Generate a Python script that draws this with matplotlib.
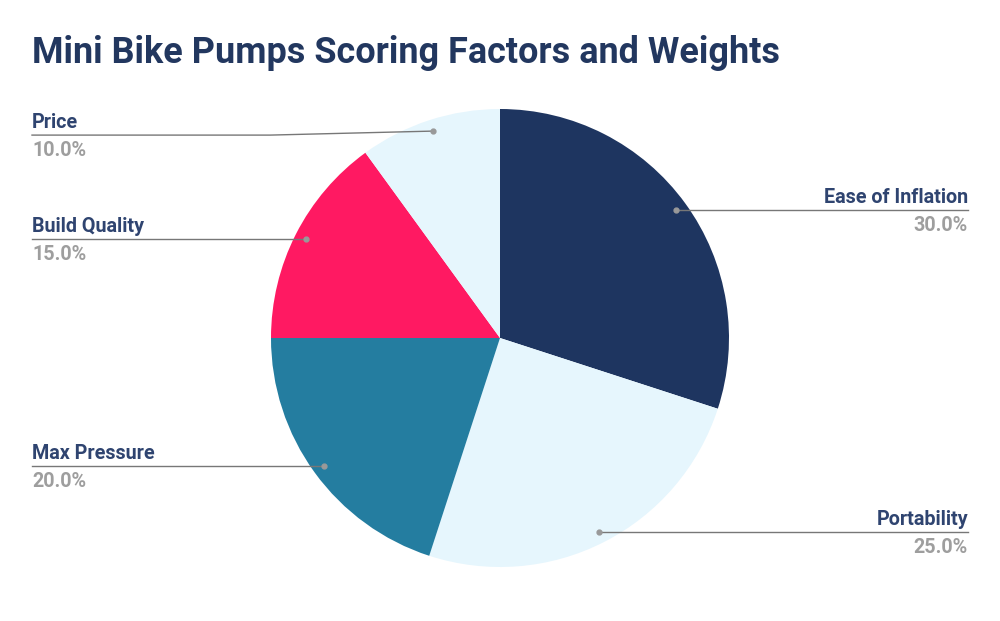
import numpy as np
import matplotlib
matplotlib.use("Agg")
import matplotlib.pyplot as plt

plt.rcParams['font.family'] = ['Roboto', 'DejaVu Sans']

title = "Mini Bike Pumps Scoring Factors and Weights"
factors = ["Ease of Inflation", "Portability", "Max Pressure", "Build Quality", "Price"]
weights = [30.0, 25.0, 20.0, 15.0, 10.0]
colors = ["#1e3560", "#e6f6fd", "#247da0", "#ff1962", "#e6f6fd"]

W, H = 1000, 621
fig = plt.figure(figsize=(W / 100, H / 100), dpi=100)
ax = fig.add_axes([0, 0, 1, 1])

cx, cy, r = 500, H - 338, 229
wedges, _ = ax.pie(weights, colors=colors, startangle=90, counterclock=False,
                   center=(cx, cy), radius=r, wedgeprops=dict(linewidth=0))
ax.set_xlim(0, W)
ax.set_ylim(0, H)
ax.set_aspect('equal')
ax.axis('off')

navy = "#22375f"
label_col = "#2f4470"
pct_col = "#9e9e9e"
line_col = "#777777"

for w, name, val in zip(wedges, factors, weights):
    mid = np.deg2rad((w.theta1 + w.theta2) / 2)
    dx, dy = cx + 0.95 * r * np.cos(mid), cy + 0.95 * r * np.sin(mid)
    ly = dy
    if dy > H - 140:  # keep the top label clear of the title
        ly = dy - 4
    if np.cos(mid) >= 0:
        xe, ha = 968, 'right'
        ax.plot([dx, xe], [ly, ly], color=line_col, lw=1, zorder=3)
    else:
        xe, ha = 32, 'left'
        if ly != dy:
            ax.plot([dx, 270, xe], [dy, ly, ly], color=line_col, lw=1, zorder=3)
        else:
            ax.plot([dx, xe], [ly, ly], color=line_col, lw=1, zorder=3)
    ax.plot(dx, dy, 'o', ms=3.5, color="#999999", zorder=4)
    ax.text(xe, ly + 3, name, ha=ha, va='bottom', fontsize=14.2,
            fontweight='bold', color=label_col)
    ax.text(xe, ly - 6, f"{val:.1f}%", ha=ha, va='top', fontsize=14.2,
            fontweight='bold', color=pct_col)

fig.text(32 / W, 1 - 53 / H, title, ha='left', va='center', fontsize=25.9,
         fontweight='bold', color=navy)

fig.savefig("out.png", dpi=100, facecolor="white")
